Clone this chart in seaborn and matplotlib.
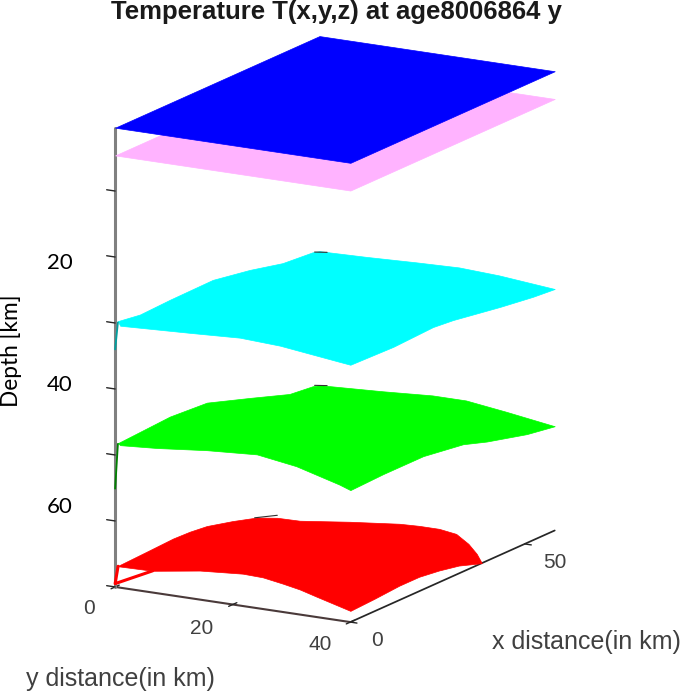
import matplotlib
matplotlib.use('Agg')
import matplotlib.pyplot as plt
import seaborn as sns
from mpl_toolkits.mplot3d.art3d import Poly3DCollection

# corners of the flat layers
flat_x = [0, 58.6, 58.6, 0]
flat_y = [0, 0, 40, 40]
blue_depth = [0.4, 0.4, 0.4, 0.4]
pink_depth = [4.6, 4.6, 4.6, 4.6]

# outlines of the curved layers
cyan_x = [0.8, 7.1, 15.7, 28, 38.6, 48, 56.6, 58.6, 58.6, 58.6, 58.6, 58.6, 58.6,
          52.3, 42.9, 29.4, 23.7, 12.3, 0, 0, 0, 0, 0, 0]
cyan_y = [0, 0, 0, 0, 0, 0, 0, 0, 8, 16.4, 23.7, 30.5, 40,
          40, 40, 40, 40, 40, 40, 38.1, 28, 21.2, 12.7, 0.85]
cyan_depth = [29.9, 30.4, 30.2, 30.1, 31.1, 32.3, 32.7, 33.0, 32.8, 32.5, 32.3, 32.6, 33.4,
              33.1, 32.4, 31.2, 30.9, 31.2, 31.0, 30.8, 29.7, 29.4, 29.8, 30.3]

green_x = [0.8, 15.7, 26.3, 38.6, 50, 56.6, 58.6, 58.6, 58.6, 58.6, 58.6, 58.6,
           50.6, 39.1, 32.3, 20.9, 9.4, 0, 0, 0, 0, 0, 0, 0]
green_y = [0, 0, 0, 0, 0, 0, 0, 10.7, 19.2, 24.9, 31.7, 40,
           40, 40, 40, 40, 40, 40, 38.1, 30.8, 24.1, 15.6, 7.1, 0.85]
green_depth = [48.4, 47.9, 48.3, 50.5, 52.6, 53.0, 53.3, 52.8, 52.3, 52.3, 53.1, 54.2,
               53.5, 51.9, 50.7, 49.8, 49.8, 50.0, 49.4, 47.6, 46.7, 47.2, 48.0, 48.4]

red_x = [0.8, 9.1, 16.6, 21.4, 26.3, 33.7, 40.6, 44.8, 45, 48.1, 50.7, 51.1, 51.1, 49.9, 46, 41.8, 37.7,
         31.1, 25.4, 19.7, 14, 6.9, 0, 0, 0, 0, 0, 0, 0, 0, 0]
red_y = [0, 0, 0, 0, 0, 0, 0, 1, 4.7, 11.4, 18.3, 21.4, 24.8, 28.4, 32.8, 36.7, 40,
         40, 40, 40, 40, 40, 40, 34.2, 31.4, 28.5, 25.1, 21.7, 14.4, 6.4, 0.5]
red_depth = [67, 66.8, 66.6, 66.7, 67, 68, 69.1, 70, 70, 70, 70, 70, 70, 70, 70, 70, 70,
             68.8, 68.2, 67.8, 67.8, 68.1, 68.3, 66.9, 66.2, 65.7, 65.2, 65.1, 65.6, 66.7, 66.8]

# thin dips at the first grid node
spike_x = [0.8, 0]
spike_y = [0, 0]
cyan_spike = [30.1, 34]
green_spike = [48.5, 55.1]
red_dip_x = [0, 0, 0]
red_dip_y = [0.5, 0, 6.4]
red_dip_depth = [66.8, 69.5, 66.7]

# small dark dashes on the far corner of each layer
dash_x = [57.2, 58.6]
dash_y = [0, 1.3]
cyan_dash = [32.8, 33.0]
green_dash = [53.0, 53.2]
red_dash_x = [40, 46]
red_dash_y = [0, 0.3]
red_dash = [69.0, 70.0]

x_ticks = [0, 50]
y_ticks = [0, 20, 40]
z_ticks = [10, 20, 30, 40, 50, 60, 70]

layer_colors = sns.color_palette(['#0000ff', '#ffb3ff', '#00ffff', '#00ff00', '#ff0000'])

sns.set_theme(style='white')

fig = plt.figure(figsize=(6.85, 6.95), dpi=100)
ax = fig.add_axes([-4 / 685, 27 / 695, 660 / 685, 660 / 695], projection='3d', computed_zorder=False)
ax.set_proj_type('ortho')
ax.view_init(elev=15, azim=-150)
ax.set_box_aspect((410, 272.5, 477), zoom=1.005)
ax.set_xlim(0, 58.6, view_margin=0)
ax.set_ylim(40, 0, view_margin=0)
ax.set_zlim(70, 0.4, view_margin=0)


def add_layer(xs, ys, depths, color, z):
    poly = Poly3DCollection([list(zip(xs, ys, depths))], facecolors=color, edgecolors=color, linewidths=0.5)
    poly.set_zorder(z)
    ax.add_collection3d(poly)


add_layer(flat_x, flat_y, pink_depth, layer_colors[1], 2)
add_layer(flat_x, flat_y, blue_depth, layer_colors[0], 3)
add_layer(cyan_x, cyan_y, cyan_depth, layer_colors[2], 2)
add_layer(green_x, green_y, green_depth, layer_colors[3], 2)
add_layer(red_x, red_y, red_depth, layer_colors[4], 2)

ax.plot(spike_x, spike_y, cyan_spike, color='#00a0a0', lw=1.3, zorder=2)
ax.plot(spike_x, spike_y, green_spike, color='#008000', lw=1.3, zorder=2)
ax.plot(red_dip_x, red_dip_y, red_dip_depth, color='#ff0000', lw=2.2, zorder=2)
ax.plot(dash_x, dash_y, cyan_dash, color='#303030', lw=0.8, zorder=4)
ax.plot(dash_x, dash_y, green_dash, color='#303030', lw=0.8, zorder=4)
ax.plot(red_dash_x, red_dash_y, red_dash, color='#303030', lw=0.8, zorder=4)

# axes styling
ax.grid(False)
for axis in (ax.xaxis, ax.yaxis, ax.zaxis):
    axis.set_pane_color((1, 1, 1, 0))
    axis.pane.set_edgecolor((1, 1, 1, 0))
ax.xaxis.line.set_color('#262626')
ax.yaxis.line.set_color('#4a3a3a')
ax.yaxis.line.set_linewidth(1.5)
ax.zaxis.line.set_color('#808080')
ax.zaxis.line.set_linewidth(2.2)

ax.set_xticks(x_ticks, labels=['', ''])
ax.set_yticks(y_ticks, labels=['', '', ''])
ax.set_zticks(z_ticks, labels=[''] * len(z_ticks))
ax.zaxis.set_ticks_position('lower')
ax.tick_params(axis='both', color='#262626')
for axis, inward, outward in ((ax.xaxis, 0.35, 0.0), (ax.yaxis, 0.25, 0.25), (ax.zaxis, 0.0, 0.45)):
    axis._axinfo['tick']['inward_factor'] = inward
    axis._axinfo['tick']['outward_factor'] = outward
    axis._axinfo['tick']['linewidth'] = {True: 1.0, False: 1.0}

# the tick numbers sit well off their ticks in the original, so they are placed by hand
z_tick_text = [('20', 60, 263), ('40', 60, 385), ('60', 60, 507)]
floor_tick_text = [('0', 89, 608), ('20', 202, 628), ('40', 320, 645), ('0', 377, 640), ('50', 555, 563)]
for label, px, py in z_tick_text:
    fig.text(px / 685, 1 - py / 695, label, ha='center', va='center', family='Lato', fontsize=16, color='black')
for label, px, py in floor_tick_text:
    fig.text(px / 685, 1 - py / 695, label, ha='center', va='center', family='Liberation Sans',
             fontsize=15, color='#404040')

fig.text(336 / 685, 1 - 12 / 695, 'Temperature T(x,y,z) at age8006864 y', ha='center', va='center',
         family='Liberation Sans', weight='bold', fontsize=18.5, color='#1a1a1a')
fig.text(11 / 685, 1 - 351 / 695, 'Depth [km]', rotation=90, ha='center', va='center',
         family='Lato', fontsize=16.3, color='black')
fig.text(120 / 685, 1 - 679 / 695, 'y distance(in km)', ha='center', va='center',
         family='Liberation Sans', fontsize=18, color='#404040')
fig.text(586 / 685, 1 - 642 / 695, 'x distance(in km)', ha='center', va='center',
         family='Liberation Sans', fontsize=18, color='#404040')

fig.savefig('out.png', dpi=100)
